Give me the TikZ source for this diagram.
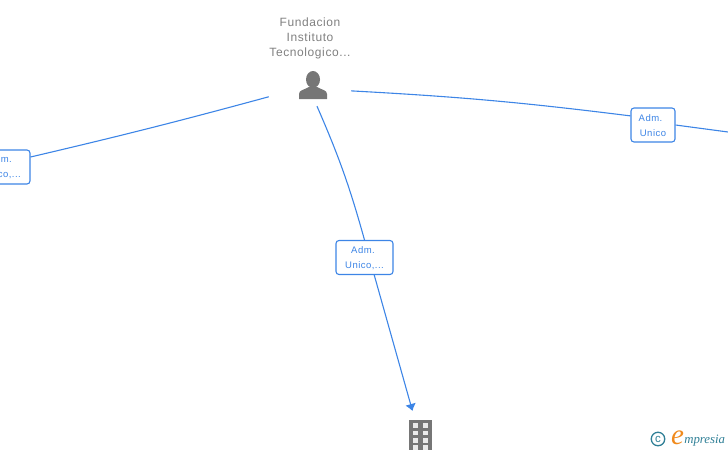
\documentclass[tikz,border=0pt]{standalone}
\usepackage{fontspec}
\setmainfont{Liberation Sans}
\newfontfamily\namefont[LetterSpace=5]{Liberation Sans}
\newfontfamily\tagfont[LetterSpace=5]{Liberation Sans}
\newfontfamily\logofont{Liberation Serif}
\usepackage{tikz}
\usetikzlibrary{arrows.meta, positioning, calc}
\definecolor{linkblue}{HTML}{3D85E6}
\definecolor{icongray}{HTML}{767676}
\definecolor{logoteal}{HTML}{2F7F96}
\definecolor{logoorange}{HTML}{F08A1D}

\begin{document}
\begin{tikzpicture}[
  x=1pt, y=-1pt,
  tagbox/.style={draw=linkblue, rounded corners=3pt, fill=white, line width=1.1pt,
                 minimum height=34pt, inner sep=0pt, align=center, text=linkblue,
                 text height=23pt, font=\tagfont\fontsize{9.5}{15}\selectfont},
  arr/.style={linkblue, line width=1.1pt},
  iconspot/.style={minimum width=82pt, minimum height=36pt, inner sep=0pt},
  blockicon/.style={fill=icongray, minimum width=23pt, minimum height=30pt, inner sep=0pt},
  pane/.style={fill=white!85!icongray}
]
  \useasboundingbox (0,0) rectangle (728,450);

  \node[align=center, text=gray, font=\namefont\fontsize{12}{15}\selectfont] (name) at (310,38)
       {Fundacion\\Instituto\\Tecnologico...};
  \node[iconspot] (person) at (310,88) {};
  \node[blockicon] (building) at (420.5,435) {};

  \node[tagbox, minimum width=57pt] (tagleft) at (1.5,167) {Adm.\hspace*{3pt}\\Unico,...};
  \node[tagbox, minimum width=57pt] (tagmid) at (364.5,257.5) {Adm.\hspace*{3pt}\\Unico,...};
  \node[tagbox, minimum width=44pt] (tagright) at (653,125) {Adm.\hspace*{5pt}\\Unico};

  \coordinate (rightend) at (728,132);
  \coordinate (arrowend) at (412.5,411);

  % person figure
  \fill[icongray] (313,79.5) ellipse (7 and 8.5);
  \fill[icongray] (299,99) -- (299,94) .. controls (299,90) and (304,90) .. (309,87)
       -- (317,87) .. controls (322,90) and (327,90) .. (327,94) -- (327,99) -- cycle;

  % building windows
  \foreach \y in {423,430.5,438,445}
    \foreach \x in {412.5,422.5}
      \fill[pane] (\x,\y) rectangle ++(5,4.5);

  \draw[arr] (person.192) to[bend left=1] (tagleft.19);
  \draw[arr] (person.-4) to[bend left=2] (tagright.158);
  \draw[arr] (tagright.east) -- (rightend);
  \draw[arr] (person.-69) to[bend left=4] (tagmid.north);
  \draw[arr, -{Latex[length=7pt,width=11pt,inset=3pt]}] (tagmid.-61.5) -- (arrowend);

  % logo
  \node[circle, draw=logoteal, line width=1.3pt, minimum size=13.5pt, inner sep=0pt,
        text=logoteal, font=\fontsize{11.5}{11.5}\selectfont] (copyr) at (658,439) {c};
  \node[text=logoorange, inner sep=0pt, font=\logofont\itshape\fontsize{29}{29}\selectfont] (logoe) at (677.5,438) {e};
  \node[right=0pt of logoe.east, yshift=-2.5pt, text=logoteal, inner sep=0pt,
        font=\logofont\itshape\fontsize{12.8}{12.8}\selectfont] (logotext) {mpresia};
\end{tikzpicture}
\end{document}
